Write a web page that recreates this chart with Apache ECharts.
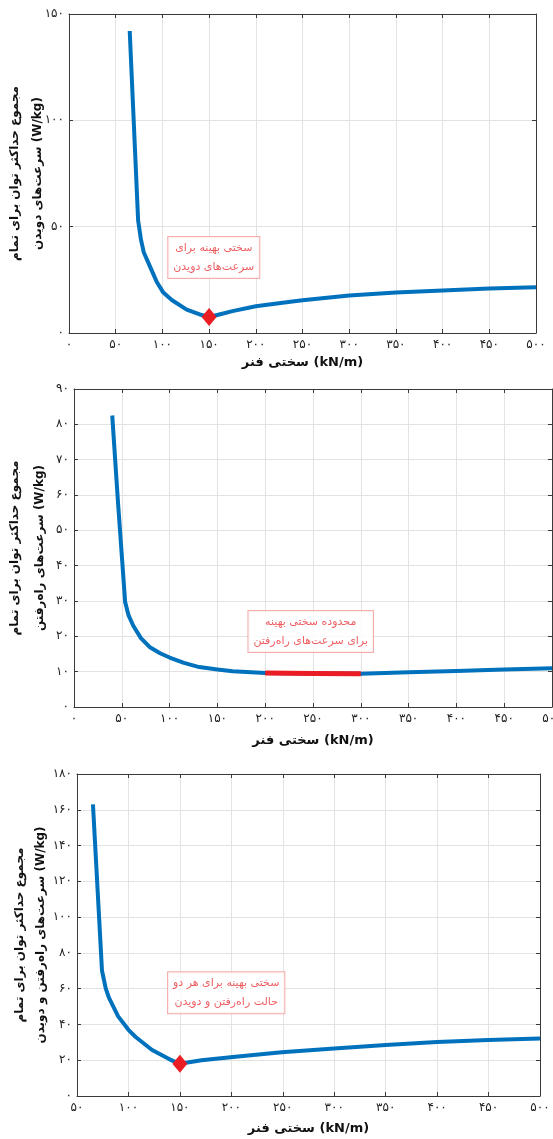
<!DOCTYPE html>
<html>
<head>
<meta charset="utf-8">
<script src="https://cdn.jsdelivr.net/npm/echarts@6/dist/echarts.min.js"></script>
<style>
html,body{margin:0;padding:0;background:#fff;}
#c{width:553px;height:1139px;}
</style>
</head>
<body>
<div id="c"></div>
<script>
// ---------- DATA ----------
// Panel 1: running speeds
const k1 = [65, 74, 77, 80, 87, 94, 101, 110, 126, 140, 150, 162, 175, 200, 237, 250, 300, 350, 400, 450, 500];
const p1 = [142, 53, 44, 38, 31, 24, 19, 15.5, 11, 8.7, 7.5, 8.8, 10.3, 12.6, 14.7, 15.4, 17.6, 19.0, 20.0, 20.9, 21.5];
// Panel 2: walking speeds
const k2 = [40, 46, 53.5, 57, 62, 70, 79, 90, 100, 115, 131, 150, 166, 200, 250, 300, 350, 400, 450, 500];
const p2 = [82.5, 58, 29.7, 26, 23, 19.5, 17, 15.2, 14, 12.5, 11.3, 10.6, 10.1, 9.6, 9.5, 9.4, 9.8, 10.2, 10.6, 11.0];
const optRange2 = [200, 300];
// Panel 3: walking + running
const k3 = [65.5, 74.3, 78, 81, 90, 100, 107, 123, 140, 150, 171, 204, 249, 300, 350, 400, 450, 500];
const p3 = [163, 70, 60, 55, 44.5, 37, 33, 25.7, 20.5, 18, 20, 22, 24.4, 26.6, 28.5, 30.2, 31.3, 32.2];

// Tick labels (Persian digits)
const xTicks1 = ['۰','۵۰','۱۰۰','۱۵۰','۲۰۰','۲۵۰','۳۰۰','۳۵۰','۴۰۰','۴۵۰','۵۰۰'];
const yTicks1 = ['۰','۵۰','۱۰۰','۱۵۰'];
const xTicks2 = ['۰','۵۰','۱۰۰','۱۵۰','۲۰۰','۲۵۰','۳۰۰','۳۵۰','۴۰۰','۴۵۰','۵۰۰'];
const yTicks2 = ['۰','۱۰','۲۰','۳۰','۴۰','۵۰','۶۰','۷۰','۸۰','۹۰'];
const xTicks3 = ['۵۰','۱۰۰','۱۵۰','۲۰۰','۲۵۰','۳۰۰','۳۵۰','۴۰۰','۴۵۰','۵۰۰'];
const yTicks3 = ['۰','۲۰','۴۰','۶۰','۸۰','۱۰۰','۱۲۰','۱۴۰','۱۶۰','۱۸۰'];

// Text
const xTitle = 'سختی فنر (kN/m)';
const yTitle1 = 'مجموع حداکثر توان برای تمام\nسرعت‌های دویدن (W/kg)';
const yTitle2 = 'مجموع حداکثر توان برای تمام\nسرعت‌های راه‌رفتن (W/kg)';
const yTitle3 = 'مجموع حداکثر توان برای تمام\nسرعت‌های راه‌رفتن و دویدن (W/kg)';
const note1 = 'سختی بهینه برای\nسرعت‌های دویدن';
const note2 = 'محدوده سختی بهینه\nبرای سرعت‌های راه‌رفتن';
const note3 = 'سختی بهینه برای هر دو\nحالت راه‌رفتن و دویدن';

// ---------- HELPERS ----------
const pairs = (ks, vs) => ks.map((k, i) => [k, vs[i]]);
const minPoint = (ks, vs) => { let m = 0; vs.forEach((v, i) => { if (v < vs[m]) m = i; }); return [ks[m], vs[m]]; };
const rangePart = (ks, vs, r) => pairs(ks, vs).filter(p => p[0] >= r[0] && p[0] <= r[1]);

const BLUE = '#0072BD';
const RED = '#ea1c24';
const AXIS = '#3a3a3a';
const GRIDC = '#e3e3e3';
const FONT = '"DejaVu Sans", sans-serif';

function xAxes(gi, min, max, interval, ticks, gap) {
  return [{
    type: 'value', gridIndex: gi, position: 'bottom', min, max, interval,
    axisLine: { show: true, onZero: false, lineStyle: { color: AXIS, width: 1 } },
    axisTick: { show: true, inside: true, length: 4, lineStyle: { color: AXIS } },
    axisLabel: { show: true, margin: 6, fontSize: 12, color: '#222', fontFamily: FONT,
      hideOverlap: false, showMinLabel: true, showMaxLabel: true,
      formatter: v => ticks[Math.round((v - min) / interval)] || '' },
    splitLine: { show: true, lineStyle: { color: GRIDC, width: 1 } },
    name: xTitle, nameLocation: 'middle', nameGap: gap, nameMoveOverlap: false,
    nameTextStyle: { fontSize: 13, fontWeight: 'bold', color: '#111', fontFamily: FONT, verticalAlign: 'middle' }
  }, {
    type: 'value', gridIndex: gi, position: 'top', min, max, interval,
    axisLine: { show: true, onZero: false, lineStyle: { color: AXIS, width: 1 } },
    axisTick: { show: true, inside: true, length: 4, lineStyle: { color: AXIS } },
    axisLabel: { show: false }, splitLine: { show: false }
  }];
}
function yAxes(gi, min, max, interval, ticks, title, gap, lh) {
  return [{
    type: 'value', gridIndex: gi, position: 'left', min, max, interval,
    axisLine: { show: true, onZero: false, lineStyle: { color: AXIS, width: 1 } },
    axisTick: { show: true, inside: true, length: 4, lineStyle: { color: AXIS } },
    axisLabel: { show: true, margin: 5, fontSize: 12, color: '#222', fontFamily: FONT,
      formatter: v => ticks[Math.round((v - min) / interval)] || '' },
    splitLine: { show: true, lineStyle: { color: GRIDC, width: 1 } },
    name: title, nameLocation: 'middle', nameGap: gap, nameRotate: 90, nameMoveOverlap: false,
    nameTextStyle: { fontSize: 12, fontWeight: 'bold', color: '#111', fontFamily: FONT, lineHeight: lh,
      align: 'center', verticalAlign: 'middle' }
  }, {
    type: 'value', gridIndex: gi, position: 'right', min, max, interval,
    axisLine: { show: true, onZero: false, lineStyle: { color: AXIS, width: 1 } },
    axisTick: { show: true, inside: true, length: 4, lineStyle: { color: AXIS } },
    axisLabel: { show: false }, splitLine: { show: false }
  }];
}
function curve(xi, yi, data) {
  return { type: 'line', xAxisIndex: xi, yAxisIndex: yi, data, showSymbol: false, symbol: 'none',
    lineStyle: { color: BLUE, width: 4, cap: 'butt', join: 'round' }, z: 3, animation: false, silent: true };
}
function diamond(xi, yi, pt) {
  return { type: 'scatter', xAxisIndex: xi, yAxisIndex: yi, data: [pt], symbol: 'diamond',
    symbolSize: [15, 18], itemStyle: { color: RED, opacity: 1 }, z: 5, animation: false, silent: true };
}
function note(xi, yi, pos, text) {
  return { type: 'scatter', xAxisIndex: xi, yAxisIndex: yi, data: [pos], symbolSize: 0, z: 6,
    animation: false, silent: true,
    label: { show: true, position: 'inside', formatter: text, color: '#e8353a', fontSize: 11,
      fontFamily: FONT, lineHeight: 19, align: 'center', backgroundColor: '#fff',
      borderColor: '#f29a9a', borderWidth: 1, padding: [2, 5, 1, 5] } };
}

const G = { containLabel: false, outerBoundsMode: 'none' };
const option = {
  backgroundColor: '#fff',
  animation: false,
  grid: [
    { ...G, left: 69, top: 14, width: 467, height: 319 },
    { ...G, left: 74, top: 389, width: 478, height: 318 },
    { ...G, left: 77, top: 774, width: 463, height: 322 }
  ],
  xAxis: [
    ...xAxes(0, 0, 500, 50, xTicks1, 30),
    ...xAxes(1, 0, 500, 50, xTicks2, 34),
    ...xAxes(2, 50, 500, 50, xTicks3, 33)
  ],
  yAxis: [
    ...yAxes(0, 0, 150, 50, yTicks1, yTitle1, 42.5, 23),
    ...yAxes(1, 0, 90, 10, yTicks2, yTitle2, 46.5, 25),
    ...yAxes(2, 0, 180, 20, yTicks3, yTitle3, 47, 21)
  ],
  series: [
    curve(0, 0, pairs(k1, p1)),
    diamond(0, 0, minPoint(k1, p1)),
    note(0, 0, [155, 35.5], note1),

    curve(2, 2, pairs(k2, p2)),
    { type: 'line', xAxisIndex: 2, yAxisIndex: 2, data: rangePart(k2, p2, optRange2), showSymbol: false, symbol: 'none',
      lineStyle: { color: RED, width: 5, cap: 'butt' }, z: 4, animation: false, silent: true },
    note(2, 2, [247.6, 21.4], note2),

    curve(4, 4, pairs(k3, p3)),
    diamond(4, 4, minPoint(k3, p3)),
    note(4, 4, [195, 57.7], note3)
  ]
};
const chart = echarts.init(document.getElementById('c'), null, { renderer: 'canvas' });
chart.setOption(option);
</script>
</body>
</html>
